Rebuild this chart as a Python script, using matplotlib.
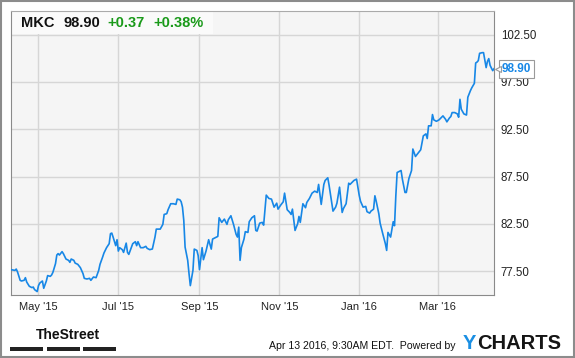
import datetime as dt
import matplotlib
matplotlib.use("Agg")
import matplotlib.pyplot as plt
import matplotlib.transforms as mtransforms
from matplotlib.patches import Rectangle

# MKC daily close, days counted from Apr 10 2015
start = dt.date(2015, 4, 10)
day_offsets = [0, 3, 4, 5, 7, 8, 10, 11, 12, 14, 16, 17, 18, 20, 21, 22, 24, 25, 27, 28,
               30, 31, 32, 34, 35, 36, 37, 39, 40, 42, 44, 45, 46, 48, 49, 51, 53, 55, 56, 58,
               60, 61, 63, 65, 67, 68, 70, 71, 73, 75, 76, 77, 78, 80, 81, 82, 83, 85, 86, 88,
               89, 90, 92, 93, 95, 96, 97, 99, 101, 103, 104, 106, 108, 110, 111, 114, 116, 117, 119, 120,
               122, 124, 126, 127, 129, 130, 131, 132, 133, 135, 136, 137, 139, 140, 142, 143, 144, 146, 147, 149,
               151, 153, 154, 156, 158, 159, 161, 163, 165, 166, 168, 170, 172, 173, 174, 175, 176, 178, 179, 181,
               182, 184, 186, 187, 188, 190, 192, 193, 195, 197, 199, 201, 203, 204, 206, 208, 209, 211, 213, 214,
               215, 217, 219, 220, 221, 223, 225, 226, 228, 230, 232, 234, 235, 237, 239, 240, 242, 243, 244, 246,
               248, 249, 251, 253, 254, 256, 258, 259, 261, 262, 264, 266, 267, 269, 271, 272, 274, 275, 277, 278,
               279, 281, 282, 284, 286, 287, 288, 290, 292, 293, 294, 295, 297, 298, 299, 301, 302, 304, 306, 307,
               309, 311, 313, 315, 317, 318, 319, 321, 322, 323, 325, 327, 329, 330, 332, 333, 335, 336, 337, 339,
               341, 342, 343, 344, 346, 348, 349, 351, 352, 354, 355, 356, 357, 358, 360, 361, 363, 364, 365, 366,
               368, 369]
prices = [77.68, 77.60, 77.74, 77.43, 76.55, 76.48, 76.55, 76.83, 76.37, 75.92, 75.78, 75.84, 75.57, 75.36, 75.99, 76.26, 76.48, 75.71, 76.48, 77.05,
          76.97, 77.11, 77.39, 78.31, 79.22, 79.37, 79.22, 79.58, 79.37, 78.80, 78.66, 78.45, 78.80, 78.66, 78.37, 78.24, 77.89, 77.26, 76.76, 76.69,
          76.76, 76.55, 76.90, 76.83, 77.60, 78.24, 79.01, 79.43, 80.00, 80.42, 81.48, 81.54, 81.12, 80.21, 80.84, 79.64, 80.00, 79.79, 79.50, 80.48,
          79.50, 79.29, 80.06, 80.42, 80.63, 80.21, 80.63, 80.00, 80.00, 80.14, 79.93, 79.79, 79.86, 81.12, 81.96, 81.96, 82.46, 83.51, 83.59, 84.01,
          84.64, 84.64, 84.57, 85.13, 85.06, 84.85, 84.28, 82.88, 80.06, 78.66, 77.26, 75.99, 77.60, 79.85, 79.71, 79.15, 77.68, 80.00, 78.73, 79.64,
          80.84, 79.85, 80.91, 81.05, 81.19, 83.16, 82.67, 83.02, 82.46, 82.95, 83.37, 82.46, 81.40, 81.12, 82.17, 78.66, 80.00, 80.91, 81.69, 81.61,
          82.74, 83.16, 83.37, 81.82, 81.75, 82.59, 82.67, 82.38, 85.55, 85.20, 85.13, 84.28, 84.70, 84.07, 84.49, 84.85, 85.76, 84.01, 83.72, 83.51,
          84.07, 81.82, 82.53, 83.30, 82.67, 84.64, 84.22, 84.78, 85.20, 85.76, 85.97, 85.83, 86.68, 84.57, 86.68, 87.10, 87.38, 86.60, 85.70, 83.86,
          84.28, 84.70, 86.39, 83.72, 84.14, 84.64, 86.81, 86.68, 86.96, 87.10, 87.24, 85.55, 84.91, 84.28, 84.36, 83.80, 83.65, 83.86, 84.07, 85.48,
          84.91, 83.59, 82.59, 81.48, 80.42, 79.71, 81.61, 81.12, 82.74, 82.32, 85.48, 87.94, 88.08, 88.15, 87.24, 85.83, 85.83, 87.31, 88.15, 90.42,
          89.63, 89.98, 90.34, 91.81, 92.02, 91.53, 92.87, 92.87, 94.06, 93.50, 93.35, 93.50, 93.78, 93.92, 93.56, 93.29, 93.71, 93.85, 94.27, 94.27,
          94.13, 93.78, 95.67, 94.62, 94.13, 94.01, 95.89, 96.59, 96.88, 97.36, 99.51, 99.60, 99.76, 100.53, 100.60, 100.60, 99.02, 99.68, 99.97, 99.26,
          98.70, 98.90]

ticker = "MKC"
last_price = "98.90"
change = "+0.37"
change_pct = "+0.38%"
tick_dates = [dt.date(2015, 5, 1), dt.date(2015, 7, 1), dt.date(2015, 9, 1),
              dt.date(2015, 11, 1), dt.date(2016, 1, 1), dt.date(2016, 3, 1)]
tick_labels = ["May '15", "Jul '15", "Sep '15", "Nov '15", "Jan '16", "Mar '16"]
y_ticks = [77.5, 82.5, 87.5, 92.5, 97.5, 102.5]
footer = "Apr 13 2016, 9:30AM EDT.  Powered by"

dates = [start + dt.timedelta(days=d) for d in day_offsets]

plt.rcParams['font.family'] = ['Liberation Sans', 'DejaVu Sans']
fig = plt.figure(figsize=(5.75, 3.58), dpi=100)
W, H = 575, 358
ax = fig.add_axes([11 / W, 1 - 295 / H, 483 / W, 284 / H])
ax.set_facecolor('#f5f5f5')

ax.plot(dates, prices, color='#1787e6', lw=1.2, zorder=3)

ax.set_xlim(start, start + dt.timedelta(days=369.5))
ax.set_ylim(75, 105)
ax.set_xticks(tick_dates)
ax.set_xticklabels(tick_labels)
ax.set_yticks(y_ticks)
ax.set_yticklabels(["%.2f" % v for v in y_ticks])
ax.yaxis.tick_right()
ax.tick_params(axis='both', length=0, colors='#222222')
ax.tick_params(axis='x', labelsize=8, pad=5)
ax.tick_params(axis='y', labelsize=8.3, pad=5)
ax.grid(True, color='#d6d6d6', lw=1)
ax.set_axisbelow(True)
for side in ['left', 'bottom', 'right']:
    ax.spines[side].set_color('#8a8a8a')
ax.spines['top'].set_color('#aaaaaa')

# header box with quote
ax.add_patch(Rectangle((0, 1 - 23 / 284), 202 / 483, 23 / 284, transform=ax.transAxes,
                       fc='#fafafa', ec='none', zorder=2))
hy = 1 - 23 / H
fig.text(21 / W, hy, ticker, fontsize=10.5, fontweight='bold', color='#111111', va='center')
fig.text(63 / W, hy, last_price, fontsize=10.5, fontweight='bold', color='#111111', va='center')
fig.text(107 / W, hy, change, fontsize=10.5, fontweight='bold', color='#1a9a1a', va='center')
fig.text(153 / W, hy, change_pct, fontsize=10.5, fontweight='bold', color='#1a9a1a', va='center')

# last price flag
blend = mtransforms.blended_transform_factory(ax.transAxes, ax.transData)
flag = mtransforms.offset_copy(blend, fig=fig, x=8, y=0, units='dots')
ax.text(1.0, prices[-1], last_price, transform=flag, fontsize=8.5, fontweight='bold',
        color='#1787e6', va='center', ha='left', clip_on=False, zorder=6,
        bbox=dict(boxstyle='square,pad=0.25', fc='white', ec='#9a9a9a', lw=0.8))
tri = mtransforms.offset_copy(blend, fig=fig, x=4, y=0, units='dots')
ax.plot([1.0], [prices[-1]], transform=tri, marker='<', ms=5, mfc='white', mec='#9a9a9a',
        mew=0.8, clip_on=False, zorder=7)

# footer
fig.text(36 / W, 1 - 335 / H, "TheStreet", fontsize=10, fontweight='bold', color='#111111',
         va='center')
for x0, x1 in [(10, 42.5), (46.5, 79.5), (83, 116)]:
    fig.patches.append(Rectangle((x0 / W, 1 - 351 / H), (x1 - x0) / W, 4 / H,
                                 transform=fig.transFigure, fc='#222222', ec='none'))
fig.text(269 / W, 1 - 349 / H, footer, fontsize=7.6, color='#111111', va='baseline')
fig.text(463 / W, 1 - 349 / H, "Y", fontsize=14.5, fontweight='bold', color='#1a8fe3', va='baseline')
fig.text(477 / W, 1 - 349 / H, "CHARTS", fontsize=14.5, fontweight='bold', color='#151515', va='baseline')

fig.patches.append(Rectangle((1 / W, 1 / H), 573 / W, 356 / H, transform=fig.transFigure,
                             fill=False, ec='#8c8c8c', lw=1.5))

fig.savefig("out.png", dpi=100)
